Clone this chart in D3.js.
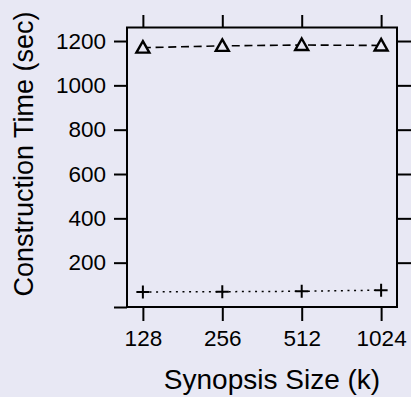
<!DOCTYPE html>
<html>
<head>
<meta charset="utf-8">
<script src="https://cdn.jsdelivr.net/npm/d3@7"></script>
<style>
  html, body { margin: 0; padding: 0; background: #e8e8f4; }
  svg { display: block; font-family: "Liberation Sans", Arial, sans-serif; }
</style>
</head>
<body>
<svg id="chart" width="411" height="397"></svg>
<script>
// synopsis sizes (k) and construction times (sec)
const sizes     = ['128', '256', '512', '1024']
const triTimes  = [1170, 1178, 1182, 1180]
const plusTimes = [68, 69, 71, 76]
const yTicks    = [0, 200, 400, 600, 800, 1000, 1200]

const svg = d3.select('#chart'),
      box = { l: 127, r: 397, t: 27.5, b: 307 }

const x = d3.scalePoint().domain(sizes).range([box.l, box.r]).padding(0.2),
      y = d3.scaleLinear().domain([0, 1261]).range([box.b, box.t])

svg.append('rect')
  .attr('width', 411).attr('height', 397)
  .attr('fill', '#e8e8f4')

// left axis with labels
const yl = svg.append('g')
  .attr('transform', `translate(${box.l},0)`)
  .call(d3.axisLeft(y).tickValues(yTicks).tickSize(13).tickPadding(8)
    .tickFormat(d => d === 0 ? '' : d))
yl.select('.domain').remove()

// right ticks only
const yr = svg.append('g')
  .attr('transform', `translate(${box.r},0)`)
  .call(d3.axisRight(y).tickValues(yTicks.slice(1)).tickSize(14).tickFormat(''))
yr.select('.domain').remove()

// bottom axis with labels
const xb = svg.append('g')
  .attr('transform', `translate(0,${box.b})`)
  .call(d3.axisBottom(x).tickSize(14).tickPadding(9))
xb.select('.domain').remove()

// top ticks only
const xt = svg.append('g')
  .attr('transform', `translate(0,${box.t})`)
  .call(d3.axisTop(x).tickSize(12.5).tickFormat(''))
xt.select('.domain').remove()

svg.selectAll('.tick line').attr('stroke', '#000').attr('stroke-width', 2)
svg.selectAll('.tick text')
  .attr('fill', '#000')
  .attr('font-size', 22.5)
  .attr('font-family', '"Liberation Sans", Arial, sans-serif')

// frame
svg.append('rect')
  .attr('x', box.l).attr('y', box.t)
  .attr('width', box.r - box.l).attr('height', box.b - box.t)
  .attr('fill', 'none').attr('stroke', '#000').attr('stroke-width', 2)

const line = d3.line().x((d, i) => x(sizes[i])).y(d => y(d))

svg.append('path')
  .datum(triTimes)
  .attr('d', line)
  .attr('fill', 'none').attr('stroke', '#000').attr('stroke-width', 1.6)
  .attr('stroke-dasharray', '8,4.7')

svg.append('path')
  .datum(plusTimes)
  .attr('d', line)
  .attr('fill', 'none').attr('stroke', '#000').attr('stroke-width', 1.5)
  .attr('stroke-dasharray', '2,4.6')

// triangles
svg.append('g').selectAll('path')
  .data(triTimes)
  .join('path')
  .attr('transform', (d, i) => `translate(${x(sizes[i])},${y(d)})`)
  .attr('d', 'M0,-6.5L6.5,5L-6.5,5Z')
  .attr('fill', '#e8e8f4').attr('stroke', '#000').attr('stroke-width', 2.4)

// plus signs
svg.append('g').selectAll('path')
  .data(plusTimes)
  .join('path')
  .attr('transform', (d, i) => `translate(${x(sizes[i])},${y(d)})`)
  .attr('d', 'M-6.5,0H6.5M0,-6.5V6.5')
  .attr('fill', 'none').attr('stroke', '#000').attr('stroke-width', 2)

// axis titles
svg.append('text')
  .attr('x', 272).attr('y', 389)
  .attr('text-anchor', 'middle')
  .attr('font-size', 28)
  .text('Synopsis Size (k)')

svg.append('text')
  .attr('transform', 'translate(33,154) rotate(-90)')
  .attr('text-anchor', 'middle')
  .attr('font-size', 27)
  .text('Construction Time (sec)')
</script>
</body>
</html>
